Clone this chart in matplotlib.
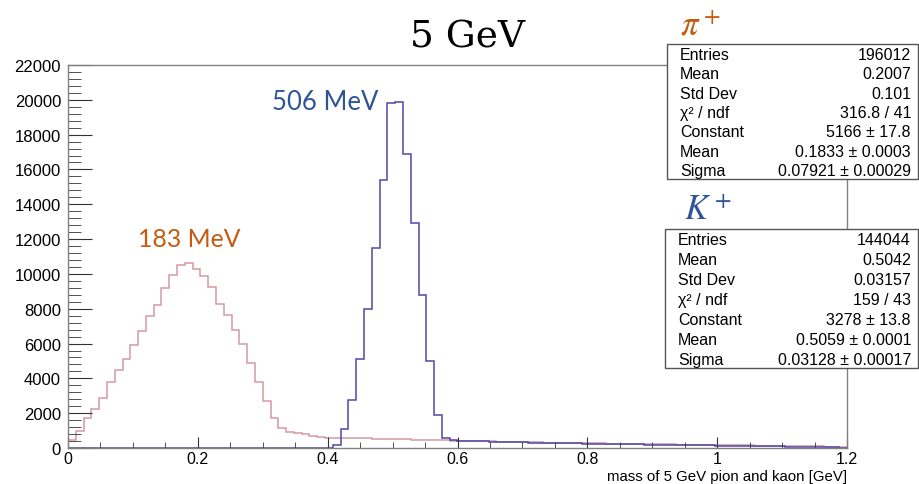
import numpy as np
import matplotlib
matplotlib.use("Agg")
import matplotlib.pyplot as plt
from matplotlib.patches import Rectangle
from matplotlib.ticker import MultipleLocator

# 100 bins of 12 MeV between 0 and 1.2 GeV
edges = np.linspace(0.0, 1.2, 101)

pion_counts = [
    450, 960, 1700, 2240, 2850, 3770, 4480, 5100, 5940, 6700,
    7570, 8240, 9180, 9960, 10500, 10600, 10300, 9900, 9270, 8280,
    7640, 6780, 5980, 4870, 3810, 2720, 1700, 1130, 900, 880,
    780, 710, 630, 600, 570, 560, 600, 590, 560, 540,
    530, 520, 500, 490, 480, 470, 460, 450, 440, 430,
    420, 410, 400, 390, 380, 370, 360, 350, 340, 330,
    320, 310, 300, 290, 285, 280, 270, 265, 260, 250,
    245, 240, 235, 230, 225, 220, 210, 205, 200, 195,
    190, 180, 175, 170, 165, 160, 150, 145, 140, 135,
    130, 125, 120, 110, 100, 95, 90, 80, 75, 70,
]

kaon_counts = [0] * 34 + [
    150, 1100, 2780, 5100, 8000, 11500, 15400, 19800, 19900, 16900,
    12900, 8800, 5000, 1900, 600, 460, 420, 400, 390, 380,
    370, 355, 345, 335, 325, 315, 305, 295, 290, 280,
    270, 262, 255, 248, 240, 232, 225, 218, 210, 205,
    198, 190, 185, 178, 170, 165, 160, 152, 146, 140,
    132, 126, 120, 112, 106, 100, 95, 88, 82, 75,
    70, 62, 55, 48, 30, 20,
]

pion_stats = [
    ("Entries", "196012"),
    ("Mean", "0.2007"),
    ("Std Dev", "0.101"),
    ("χ² / ndf", "316.8 / 41"),
    ("Constant", "5166 ± 17.8"),
    ("Mean", "0.1833 ± 0.0003"),
    ("Sigma", "0.07921 ± 0.00029"),
]

kaon_stats = [
    ("Entries", "144044"),
    ("Mean", "0.5042"),
    ("Std Dev", "0.03157"),
    ("χ² / ndf", "159 / 43"),
    ("Constant", "3278 ± 13.8"),
    ("Mean", "0.5059 ± 0.0001"),
    ("Sigma", "0.03128 ± 0.00017"),
]

W, H = 919, 485
PION_COLOR = "#d49aa3"
KAON_COLOR = "#4f48a8"
ORANGE = "#c55a11"
BLUE = "#2f5597"

plt.rcParams["font.family"] = ["Liberation Sans", "DejaVu Sans"]


def px(x, y):
    return x / W, 1 - y / H


def stat_box(fig, left, top, right, bottom, rows):
    x0, y0 = px(left, bottom)
    x1, y1 = px(right, top)
    fig.patches.append(
        Rectangle((x0, y0), x1 - x0, y1 - y0, transform=fig.transFigure,
                  fc="white", ec="#555555", lw=1.0, zorder=5)
    )
    step = (bottom - top) / len(rows)
    for i, (name, value) in enumerate(rows):
        yc = top + step * (i + 0.55)
        fig.text(*px(left + 13, yc), name, ha="left", va="center",
                 fontsize=11.5, zorder=6)
        fig.text(*px(right - 7, yc), value, ha="right", va="center",
                 fontsize=11.5, zorder=6)


fig = plt.figure(figsize=(W / 100, H / 100), dpi=100)
ax = fig.add_axes([68 / W, 1 - 449 / H, (847 - 68) / W, (449 - 66) / H])

ax.stairs(pion_counts, edges, color=PION_COLOR, lw=1.1)
ax.stairs(kaon_counts, edges, color=KAON_COLOR, lw=1.1)

ax.set_xlim(0, 1.2)
ax.set_ylim(0, 22000)
ax.xaxis.set_major_locator(MultipleLocator(0.2))
ax.xaxis.set_minor_locator(MultipleLocator(0.05))
ax.yaxis.set_major_locator(MultipleLocator(2000))
ax.yaxis.set_minor_locator(MultipleLocator(400))
ax.xaxis.set_major_formatter(lambda v, p: "0" if v == 0 else f"{v:g}")

ax.tick_params(axis="both", which="both", direction="in", colors="#333333",
               labelcolor="black", labelsize=12)
ax.tick_params(axis="y", which="major", length=17, pad=5)
ax.tick_params(axis="y", which="minor", length=9)
ax.tick_params(axis="x", which="major", length=8, pad=2, labelsize=11.5)
ax.tick_params(axis="x", which="minor", length=4.3)
for sp in ax.spines.values():
    sp.set_color("#808080")
    sp.set_linewidth(1.0)

# axis title sits flush with the right end of the x axis
fig.text(*px(847, 481.5), "mass of 5 GeV pion and kaon [GeV]", ha="right",
         va="baseline", fontsize=10.8)

# title and peak annotations
fig.text(*px(467, 47), "5 GeV", ha="center", va="baseline",
         fontsize=27, family=["DejaVu Serif"])
fig.text(*px(138, 247), "183 MeV", ha="left", va="baseline",
         fontsize=17.8, family=["Lato"], color=ORANGE)
fig.text(*px(272, 110), "506 MeV", ha="left", va="baseline",
         fontsize=18.5, family=["Lato"], color=BLUE)

fig.text(*px(680, 36), r"$\pi^+$", ha="left", va="baseline",
         fontsize=25, color=ORANGE, math_fontfamily="stix")
fig.text(*px(684, 220), r"$K^+$", ha="left", va="baseline",
         fontsize=25, color=BLUE, math_fontfamily="stix")

stat_box(fig, 667, 45, 918, 180, pion_stats)
stat_box(fig, 665, 230, 918, 369, kaon_stats)

fig.savefig("out.png", dpi=100)
